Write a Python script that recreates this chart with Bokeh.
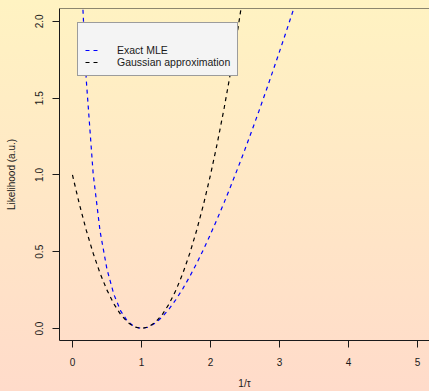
from bokeh.plotting import figure
from bokeh.models import (Range1d, FixedTicker, NumeralTickFormatter, Legend, LegendItem,
                          Span, GlobalInlineStyleSheet)
from bokeh.embed import file_html
from bokeh.resources import INLINE

# --- data ---
exact_x = [0.10, 0.12, 0.15, 0.2, 0.3, 0.4, 0.5, 0.6, 0.7, 0.8, 0.9, 1.0, 1.1, 1.2, 1.3,
           1.4, 1.5, 1.6, 1.7, 1.8, 1.9, 2.0, 2.1, 2.2, 2.3, 2.4, 2.5, 2.6, 2.7, 2.8,
           2.9, 3.0, 3.1, 3.2, 3.3, 3.4]
exact_y = [2.805, 2.481, 2.094, 1.619, 1.008, 0.633, 0.386, 0.222, 0.113, 0.046, 0.011, 0.0,
           0.009, 0.035, 0.075, 0.127, 0.189, 0.260, 0.339, 0.424, 0.516, 0.614, 0.716,
           0.823, 0.934, 1.049, 1.167, 1.289, 1.413, 1.541, 1.671, 1.803, 1.937, 2.074,
           2.212, 2.352]
gauss_x = [0.0, 0.1, 0.2, 0.3, 0.4, 0.5, 0.6, 0.7, 0.8, 0.9, 1.0, 1.1, 1.2, 1.3, 1.4, 1.5,
           1.6, 1.7, 1.8, 1.9, 2.0, 2.1, 2.2, 2.3, 2.4, 2.5]
gauss_y = [1.00, 0.81, 0.64, 0.49, 0.36, 0.25, 0.16, 0.09, 0.04, 0.01, 0.0, 0.01, 0.04, 0.09,
           0.16, 0.25, 0.36, 0.49, 0.64, 0.81, 1.00, 1.21, 1.44, 1.69, 1.96, 2.25]
x_ticks = [0, 1, 2, 3, 4, 5]
y_ticks = [0.0, 0.5, 1.0, 1.5, 2.0]
series_labels = ["Exact MLE", "Gaussian approximation"]
x_label = "1/\u03c4"
y_label = "Likelihood (a.u.)"

FONT = "Liberation Sans"
INK = "#1a1a1a"
Y_TOP = 2.084

p = figure(width=429, height=391, output_backend="svg", toolbar_location=None,
           x_range=Range1d(-0.188, 5.174), y_range=Range1d(-0.078, Y_TOP),
           min_border_left=59, min_border_right=0, min_border_top=8, min_border_bottom=50)

p.background_fill_color = None
p.border_fill_color = None
p.outline_line_color = None
p.xgrid.visible = False
p.ygrid.visible = False

p.stylesheets = [GlobalInlineStyleSheet(
    css="html{min-height:100%;background:linear-gradient(to bottom,#FFF3C2 0%,#FFDBCA 100%) fixed;}")]

r_exact = p.line(exact_x, exact_y, line_color="#0000FF", line_width=1.2, line_dash="4 4")
r_gauss = p.line(gauss_x, gauss_y, line_color="#000000", line_width=1.2, line_dash="4 4")

for ax in (p.xaxis[0], p.yaxis[0]):
    ax.axis_line_color = INK
    ax.axis_line_width = 1
    ax.major_tick_line_color = INK
    ax.major_tick_out = 7
    ax.major_tick_in = 0
    ax.minor_tick_line_color = None
    ax.major_label_text_font = FONT
    ax.major_label_text_font_size = "10px"
    ax.major_label_text_color = INK
    ax.axis_label_text_font = FONT
    ax.axis_label_text_font_size = "10px"
    ax.axis_label_text_font_style = "normal"
    ax.axis_label_text_color = INK

p.xaxis.ticker = FixedTicker(ticks=x_ticks)
p.yaxis.ticker = FixedTicker(ticks=y_ticks)
p.yaxis.formatter = NumeralTickFormatter(format="0.0")
p.yaxis.major_label_orientation = "vertical"
p.xaxis.axis_label = x_label
p.yaxis.axis_label = y_label
p.xaxis.major_label_standoff = 10
p.xaxis.axis_label_standoff = 9
p.yaxis.major_label_standoff = 9
p.yaxis.axis_label_standoff = 16

p.add_layout(Span(location=Y_TOP, dimension="width", line_color=INK, line_width=1))

legend = Legend(items=[LegendItem(label=series_labels[0], renderers=[r_exact]),
                       LegendItem(label=series_labels[1], renderers=[r_gauss])],
                location=(18, 264))
legend.title = " "
legend.title_text_font_size = "10.5px"
legend.title_standoff = 2
legend.label_text_font = FONT
legend.label_text_font_size = "10.5px"
legend.label_text_color = INK
legend.glyph_width = 15
legend.glyph_height = 10
legend.label_height = 11
legend.spacing = 0
legend.padding = 7
legend.label_standoff = 17
legend.margin = 0
legend.border_line_color = "#444444"
legend.border_line_width = 1
legend.background_fill_color = "#F4F4F4"
legend.background_fill_alpha = 1
p.add_layout(legend)

open("out.html", "w").write(file_html(p, INLINE))
